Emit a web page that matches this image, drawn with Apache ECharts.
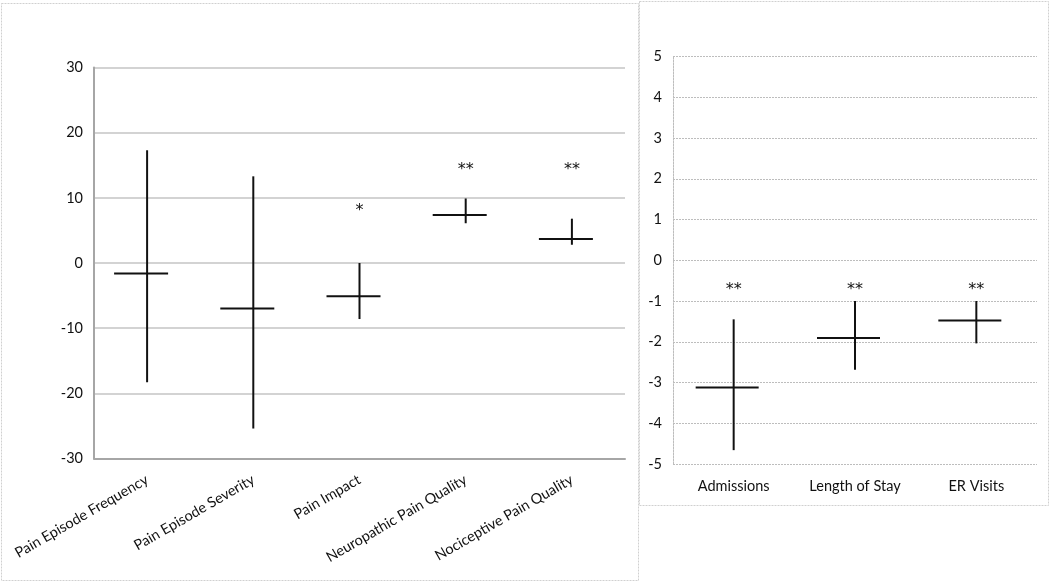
<!DOCTYPE html>
<html><head><meta charset="utf-8">
<script src="https://cdn.jsdelivr.net/npm/echarts@6/dist/echarts.min.js"></script>
<style>html,body{margin:0;padding:0;background:#fff}#c{width:1050px;height:582px}</style>
</head><body><div id="c"></div>
<script>
// Left panel: pain outcomes (mean with interval)
const painCategories = ['Pain Episode Frequency', 'Pain Episode Severity', 'Pain Impact', 'Neuropathic Pain Quality', 'Nociceptive Pain Quality'];
const painLow  = [-18.3, -25.4, -8.6, 6.1, 2.8];
const painHigh = [17.3, 13.3, 0.0, 9.9, 6.8];
const painMean = [-1.6, -7.0, -5.1, 7.35, 3.7];
const painSig   = ['', '', '*', '**', '**'];
const painSigAt = [null, null, 8.5, 14.7, 14.7];
const painAxisMin = -30, painAxisMax = 30, painAxisStep = 10;

// Right panel: utilization outcomes
const utilCategories = ['Admissions', 'Length of Stay', 'ER Visits'];
const utilLow  = [-4.66, -2.69, -2.04];
const utilHigh = [-1.45, -1.0, -1.0];
const utilMean = [-3.12, -1.91, -1.48];
const utilSig   = ['**', '**', '**'];
const utilSigAt = [-0.65, -0.65, -0.65];
const utilAxisMin = -5, utilAxisMax = 5, utilAxisStep = 1;

const FONT = 'Lato, "Open Sans", sans-serif';
const STAR_FONT = '"DejaVu Sans", sans-serif';
const INK = '#111111';

function crossRender(leftOff, rightOff) {
  return function (params, api) {
    const i = api.value(0);
    const lo = api.coord([i, api.value(1)]);
    const hi = api.coord([i, api.value(2)]);
    const mid = api.coord([i, api.value(3)]);
    return {
      type: 'group',
      children: [
        { type: 'line', shape: { x1: lo[0], y1: lo[1], x2: hi[0], y2: hi[1] }, style: { stroke: INK, lineWidth: 2 } },
        { type: 'line', shape: { x1: mid[0] - leftOff, y1: mid[1], x2: mid[0] + rightOff, y2: mid[1] }, style: { stroke: INK, lineWidth: 2 } }
      ]
    };
  };
}
function sigRender(labels) {
  return function (params, api) {
    const p = api.coord([api.value(0), api.value(1)]);
    return {
      type: 'text', x: p[0], y: p[1] + 3,
      style: { text: labels[params.dataIndex], font: '16px ' + STAR_FONT, fill: INK, align: 'center', verticalAlign: 'middle' }
    };
  };
}

const painCross = painCategories.map((c, i) => [i, painLow[i], painHigh[i], painMean[i]]);
const utilCross = utilCategories.map((c, i) => [i, utilLow[i], utilHigh[i], utilMean[i]]);
const painSigData = [], painSigText = [];
painSigAt.forEach((v, i) => { if (v !== null) { painSigData.push([i, v]); painSigText.push(painSig[i]); } });
const utilSigData = [], utilSigText = [];
utilSigAt.forEach((v, i) => { if (v !== null) { utilSigData.push([i, v]); utilSigText.push(utilSig[i]); } });

const chart = echarts.init(document.getElementById('c'), null, { renderer: 'canvas' });
chart.setOption({
  animation: false,
  backgroundColor: '#ffffff',
  graphic: [
    { type: 'rect', shape: { x: 1.5, y: 3.5, width: 637, height: 577 }, style: { fill: 'none', stroke: '#d0d0d0', lineWidth: 1, lineDash: [2, 1] }, z: -1 },
    { type: 'rect', shape: { x: 639.5, y: 1.5, width: 409, height: 504 }, style: { fill: 'none', stroke: '#d0d0d0', lineWidth: 1, lineDash: [2, 1] }, z: -1 }
  ],
  grid: [
    { left: 94, top: 67.5, width: 531, height: 391 },
    { left: 673, top: 56.5, width: 364, height: 407.5 }
  ],
  xAxis: [
    {
      gridIndex: 0, type: 'category', data: painCategories, boundaryGap: true,
      axisLine: { show: true, onZero: false, lineStyle: { color: '#a6a6a6', width: 2 } },
      axisTick: { show: false },
      axisLabel: { rotate: 30, margin: 20, interval: 0, color: INK, fontFamily: FONT, fontSize: 14.5 },
      splitLine: { show: false }
    },
    {
      gridIndex: 1, type: 'category', data: utilCategories, boundaryGap: true,
      axisLine: { show: false },
      axisTick: { show: false },
      axisLabel: { margin: 15, interval: 0, color: INK, fontFamily: FONT, fontSize: 14.5 },
      splitLine: { show: false }
    }
  ],
  yAxis: [
    {
      gridIndex: 0, type: 'value', min: painAxisMin, max: painAxisMax, interval: painAxisStep,
      axisLine: { show: true, lineStyle: { color: '#a6a6a6', width: 2 } },
      axisTick: { show: false },
      axisLabel: { margin: 11, color: INK, fontFamily: FONT, fontSize: 14.5 },
      splitLine: { show: true, lineStyle: { color: '#c4c4c4', width: 1.5 } }
    },
    {
      gridIndex: 1, type: 'value', min: utilAxisMin, max: utilAxisMax, interval: utilAxisStep,
      axisLine: { show: true, lineStyle: { color: '#bdbdbd', width: 1, type: [2, 1] } },
      axisTick: { show: false },
      axisLabel: { margin: 11, color: INK, fontFamily: FONT, fontSize: 14.5 },
      splitLine: { show: true, lineStyle: { color: '#bdbdbd', width: 1, type: [2, 1] } }
    }
  ],
  series: [
    { type: 'custom', xAxisIndex: 0, yAxisIndex: 0, renderItem: crossRender(33, 21), data: painCross, z: 5 },
    { type: 'custom', xAxisIndex: 0, yAxisIndex: 0, renderItem: sigRender(painSigText), data: painSigData, z: 5 },
    { type: 'custom', xAxisIndex: 1, yAxisIndex: 1, renderItem: crossRender(38, 25), data: utilCross, z: 5 },
    { type: 'custom', xAxisIndex: 1, yAxisIndex: 1, renderItem: sigRender(utilSigText), data: utilSigData, z: 5 }
  ]
});
</script>
</body></html>
